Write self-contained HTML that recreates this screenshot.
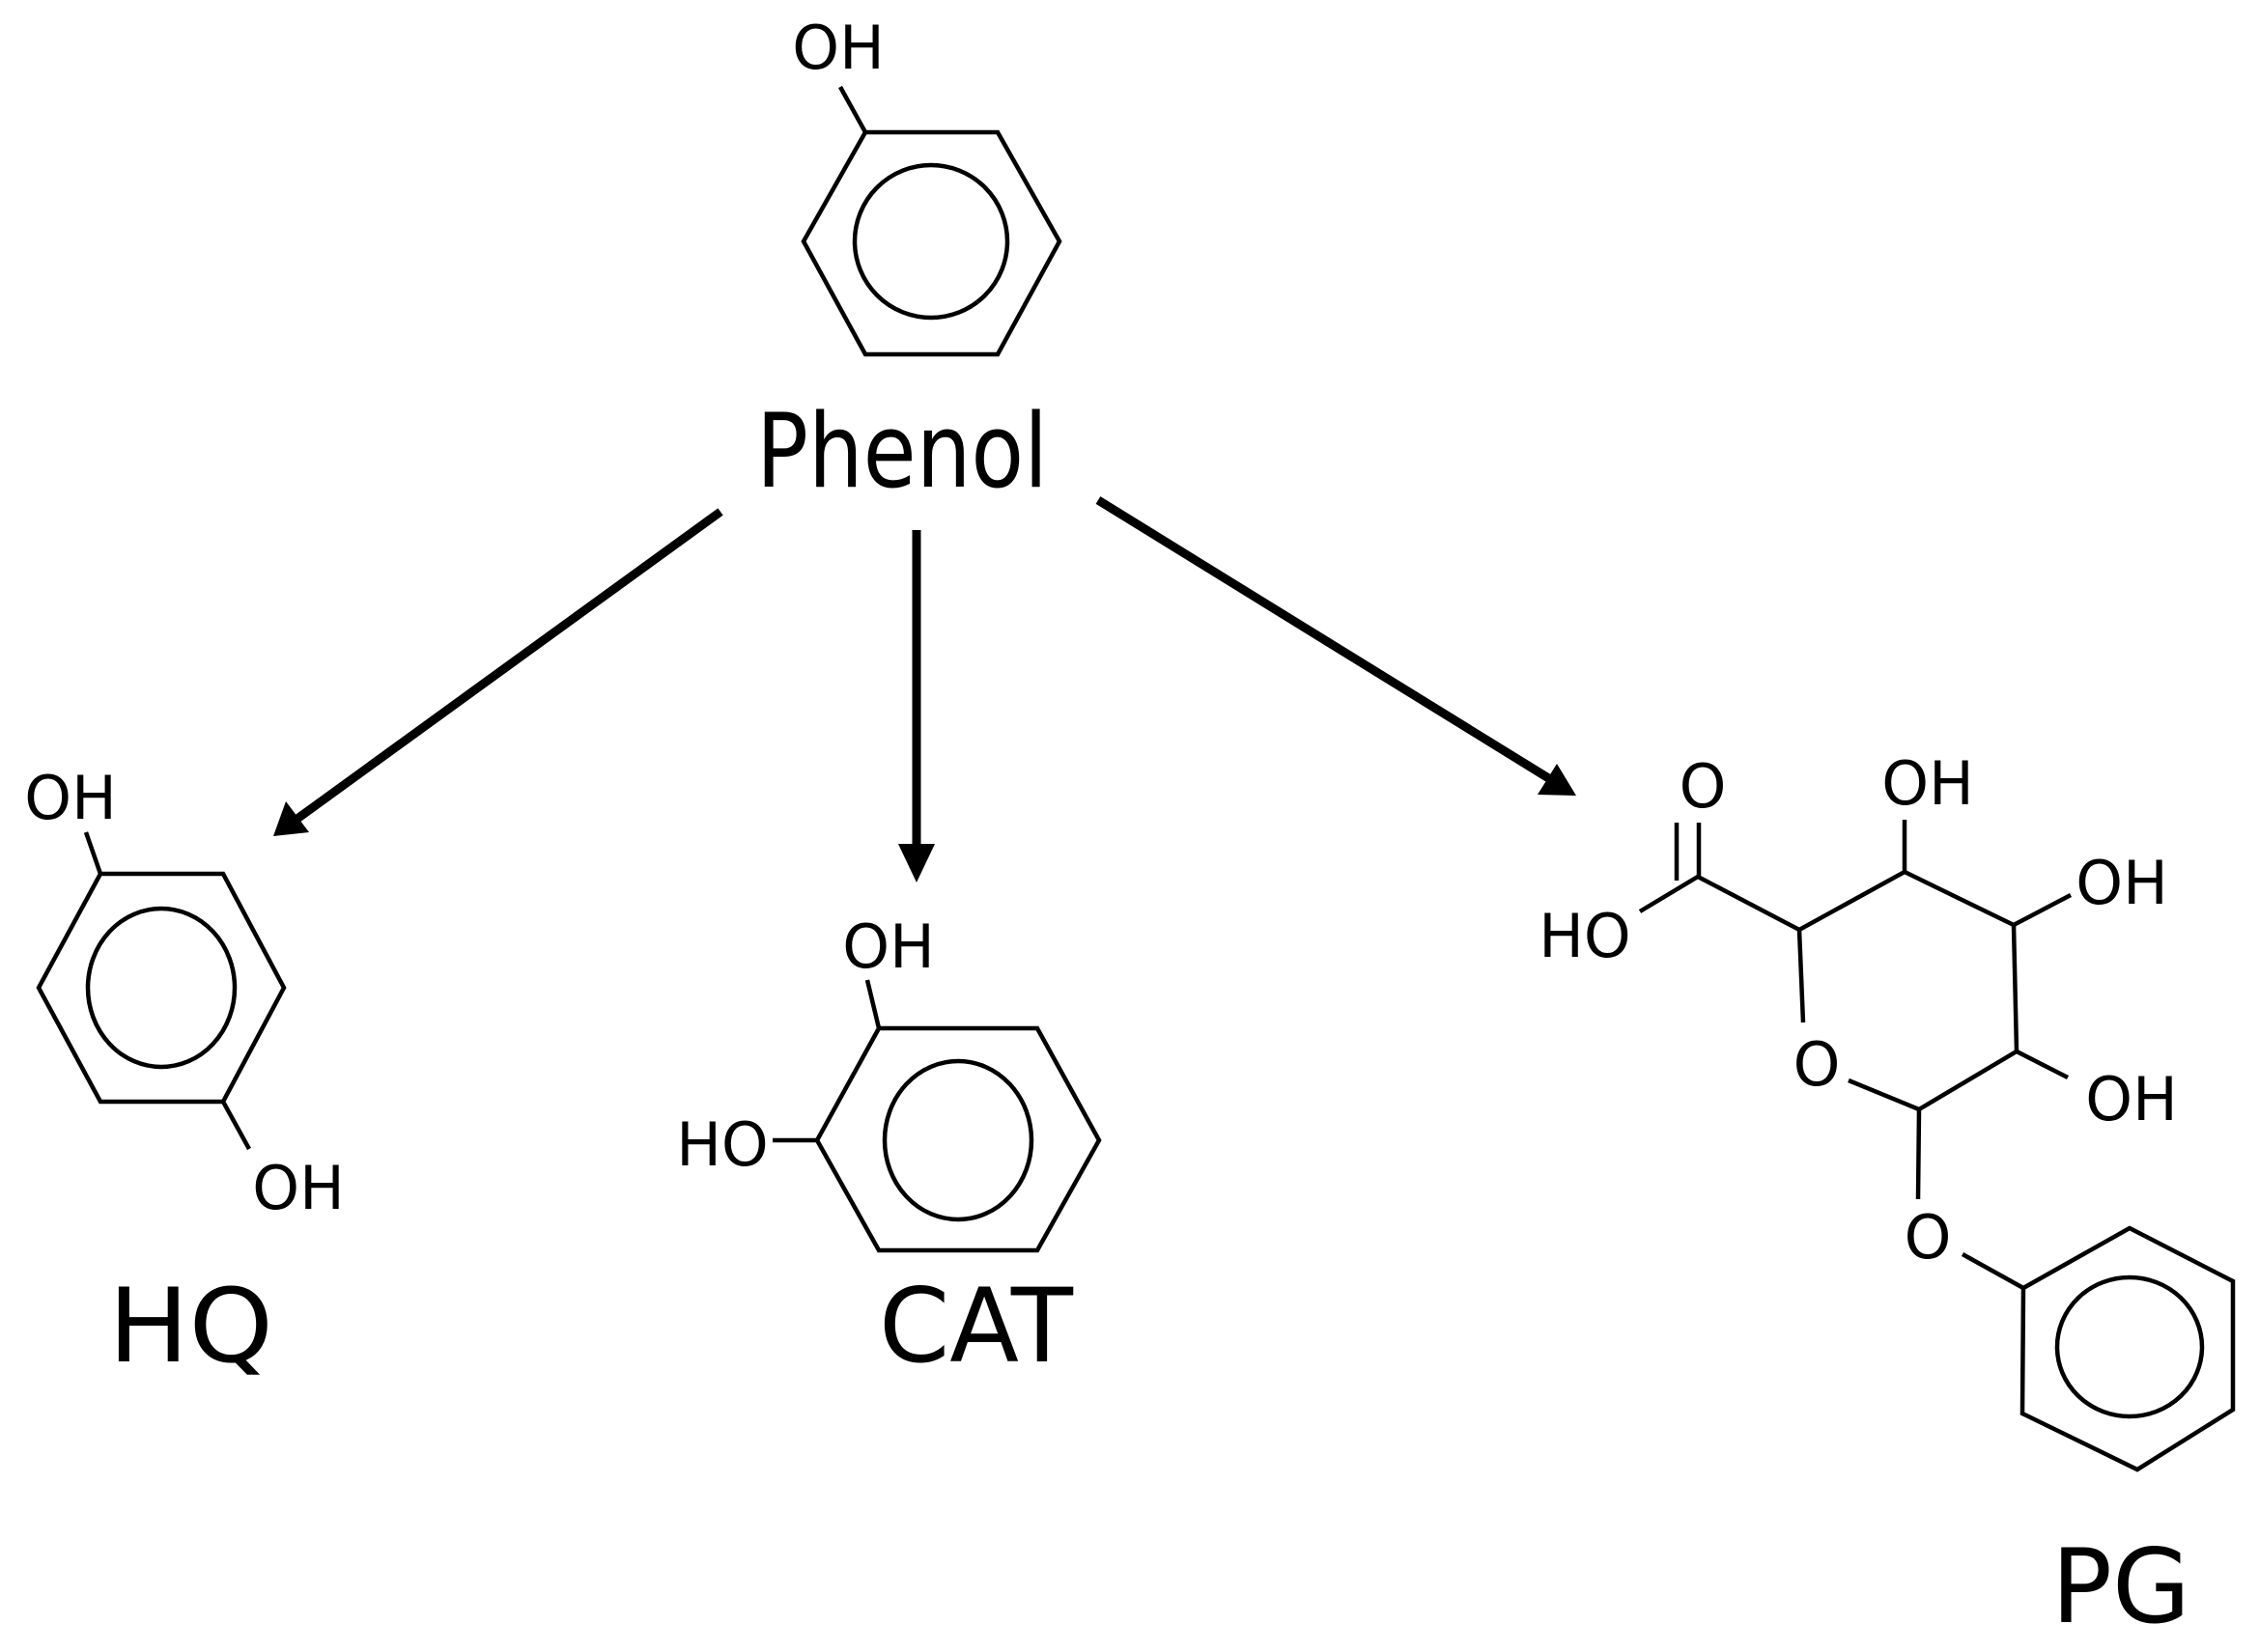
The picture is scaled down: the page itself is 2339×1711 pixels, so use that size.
<!DOCTYPE html>
<html><head><meta charset="utf-8"><style>html,body{margin:0;padding:0;background:#fff}svg{display:block}</style></head>
<body>
<svg width="2339" height="1711" viewBox="0 0 2339 1711" xmlns="http://www.w3.org/2000/svg" font-family="DejaVu Sans, Liberation Sans, sans-serif" fill="#000">
<g fill="none" stroke="#000" stroke-width="4.5">
<!-- Phenol -->
<polygon points="896,137 1033,137 1097,250 1033,367 896,367 832,250"/>
<circle cx="964" cy="250" r="79"/>
<line x1="870" y1="90" x2="896" y2="137"/>
<!-- HQ -->
<polygon points="104,905 231,905 294,1023 231,1141 104,1141 40,1023"/>
<ellipse cx="167" cy="1023" rx="76" ry="82"/>
<line x1="89" y1="862" x2="104" y2="905"/>
<line x1="231" y1="1141" x2="258" y2="1190"/>
<!-- CAT -->
<polygon points="910,1065 1074,1065 1138,1181 1074,1295 910,1295 846,1181"/>
<ellipse cx="992" cy="1181" rx="76" ry="82"/>
<line x1="898" y1="1015" x2="910" y2="1065"/>
<line x1="800" y1="1181" x2="846" y2="1181"/>
<!-- PG -->
<line x1="1736" y1="852" x2="1736" y2="912"/>
<line x1="1759" y1="852" x2="1759" y2="908"/>
<polyline points="1698,944 1758,908 1863,963 1972,903 2085,958 2144,927"/>
<line x1="1972" y1="903" x2="1972" y2="849"/>
<line x1="1863" y1="963" x2="1867" y2="1059"/>
<line x1="1914" y1="1119" x2="1987" y2="1149"/>
<polyline points="1987,1149 2088,1089 2141,1116"/>
<line x1="2085" y1="958" x2="2088" y2="1089"/>
<line x1="1987" y1="1149" x2="1986" y2="1242"/>
<line x1="2032" y1="1299" x2="2095" y2="1334"/>
<polygon points="2095,1334 2205,1272 2312,1327 2312,1460 2213,1522 2094,1464"/>
<ellipse cx="2205" cy="1395" rx="75" ry="72"/>
</g>
<!-- arrows -->
<g stroke="#000" stroke-width="9" fill="none">
<line x1="746" y1="530" x2="305" y2="850"/>
<line x1="949" y1="549" x2="949" y2="880"/>
<line x1="1137" y1="518" x2="1605" y2="807"/>
</g>
<g fill="#000" stroke="none">
<polygon points="283,866 296,830 320,862"/>
<polygon points="949,914 930,874 968,874"/>
<polygon points="1632,824 1592,823 1612,791"/>
</g>
<!-- small labels -->
<g font-size="62" text-anchor="middle">
<text x="868" y="71">OH</text>
<text x="73" y="848">OH</text>
<text x="309" y="1252">OH</text>
<text x="920" y="1002">OH</text>
<text x="748" y="1207">HO</text>
<text x="1763" y="836">O</text>
<text x="1641" y="991">HO</text>
<text x="1996" y="833">OH</text>
<text x="2197" y="936">OH</text>
<text x="1881" y="1124">O</text>
<text x="2207" y="1160">OH</text>
<text x="1996" y="1303">O</text>
</g>
<!-- big labels -->
<g font-size="106">
<text x="783" y="504" textLength="302" lengthAdjust="spacingAndGlyphs">Phenol</text>
<text x="112" y="1410" textLength="171" lengthAdjust="spacingAndGlyphs">HQ</text>
<text x="910" y="1410" textLength="201" lengthAdjust="spacingAndGlyphs">CAT</text>
<text x="2124" y="1680" textLength="144" lengthAdjust="spacingAndGlyphs">PG</text>
</g>
</svg>
</body></html>
